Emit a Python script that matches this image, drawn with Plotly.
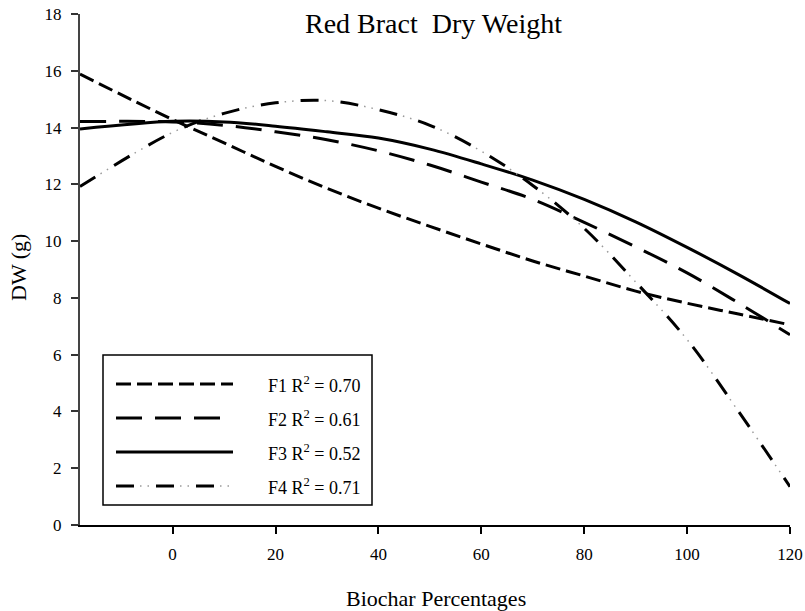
import plotly.graph_objects as go

# Biochar percentage levels and dry-weight trend values (g) for each formulation
x_pct = [-18, 0, 10, 20, 30, 40, 50, 60, 70, 80, 90, 100, 110, 120]
f1_dw = [15.88, 14.28, 13.46, 12.63, 11.86, 11.16, 10.52, 9.90, 9.30, 8.77, 8.24, 7.81, 7.43, 7.05]
f2_dw = [14.21, 14.20, 14.08, 13.85, 13.57, 13.18, 12.68, 12.08, 11.47, 10.66, 9.80, 8.88, 7.82, 6.70]
f3_dw = [13.95, 14.22, 14.20, 14.05, 13.85, 13.63, 13.24, 12.72, 12.15, 11.47, 10.68, 9.78, 8.82, 7.80]
f4_dw = [11.92, 13.83, 14.50, 14.87, 14.95, 14.63, 14.08, 13.17, 11.96, 10.45, 8.56, 6.53, 4.00, 1.35]

series_names = ["F1", "F2", "F3", "F4"]
r_squared = ["0.70", "0.61", "0.52", "0.71"]
x_ticks = [0, 20, 40, 60, 80, 100, 120]

FONT = "Liberation Serif"
W, H = 805, 611
L, R, T, B = 80, 15, 14, 86


def px_x(p):
    return (p - L) / (W - L - R)


def px_y(p):
    return (H - B - p) / (H - T - B)


# (dash pattern, width, colour) layers for each series
styles = {
    "F1": [("15px,6px", 3, "black")],
    "F2": [("26px,13px", 3, "black")],
    "F3": [("solid", 3, "black")],
    "F4": [("18px,22px", 3, "black"), ("0px,24px,1.5px,6px,1.5px,7px", 1.5, "#9a9a9a")],
}
values = {"F1": f1_dw, "F2": f2_dw, "F3": f3_dw, "F4": f4_dw}

fig = go.Figure()
for name in series_names:
    for dash, width, color in styles[name]:
        fig.add_trace(go.Scatter(
            x=x_pct, y=values[name], mode="lines", name=name,
            line=dict(color=color, width=width, dash=dash, shape="spline"),
            showlegend=False, hoverinfo="skip",
        ))

shapes = [dict(type="rect", xref="paper", yref="paper",
               x0=px_x(103), x1=px_x(372), y0=px_y(355), y1=px_y(505),
               line=dict(color="black", width=1.5), fillcolor="white", layer="below")]
annotations = []
legend_rows = [384, 418, 452, 486]
for name, r2, row in zip(series_names, r_squared, legend_rows):
    for dash, width, color in styles[name]:
        shapes.append(dict(type="line", xref="paper", yref="paper",
                           x0=px_x(116), x1=px_x(233), y0=px_y(row), y1=px_y(row),
                           line=dict(color=color, width=width, dash=dash)))
    annotations.append(dict(
        xref="paper", yref="paper", x=px_x(266), y=px_y(row),
        xanchor="left", yanchor="middle", showarrow=False,
        text=f"{name} R<sup>2</sup> = {r2}",
        font=dict(family=FONT, size=18, color="black"),
    ))

annotations += [
    dict(xref="paper", yref="paper", x=px_x(433), y=px_y(23), xanchor="center", yanchor="middle",
         showarrow=False, text="Red Bract\u00a0 Dry Weight",
         font=dict(family=FONT, size=28, color="black")),
    dict(xref="paper", yref="paper", x=px_x(436), y=px_y(598), xanchor="center", yanchor="middle",
         showarrow=False, text="Biochar Percentages",
         font=dict(family=FONT, size=22, color="black")),
    dict(xref="paper", yref="paper", x=px_x(18), y=px_y(268), xanchor="center", yanchor="middle",
         showarrow=False, text="DW (g)", textangle=-90,
         font=dict(family=FONT, size=22, color="black")),
]

fig.update_layout(
    width=W, height=H,
    margin=dict(l=L, r=R, t=T, b=B, pad=0, autoexpand=False),
    paper_bgcolor="white", plot_bgcolor="white",
    shapes=shapes, annotations=annotations,
    showlegend=False,
)
fig.update_xaxes(
    range=[-18, 120], tickvals=x_ticks, ticks="outside", ticklen=7, tickwidth=1.5,
    tickcolor="black", showline=True, linecolor="black", linewidth=1.5,
    showgrid=False, zeroline=False, ticklabelstandoff=6, automargin=False,
    tickfont=dict(family=FONT, size=17, color="black"),
)
fig.update_yaxes(
    range=[0, 18], dtick=2, tick0=0, ticks="outside", ticklen=7, tickwidth=1.5,
    tickcolor="#333", showline=True, linecolor="#444", linewidth=2,
    showgrid=False, zeroline=False, ticklabelstandoff=6, automargin=False,
    tickfont=dict(family=FONT, size=17, color="black"),
)

fig.write_html("out.html")
